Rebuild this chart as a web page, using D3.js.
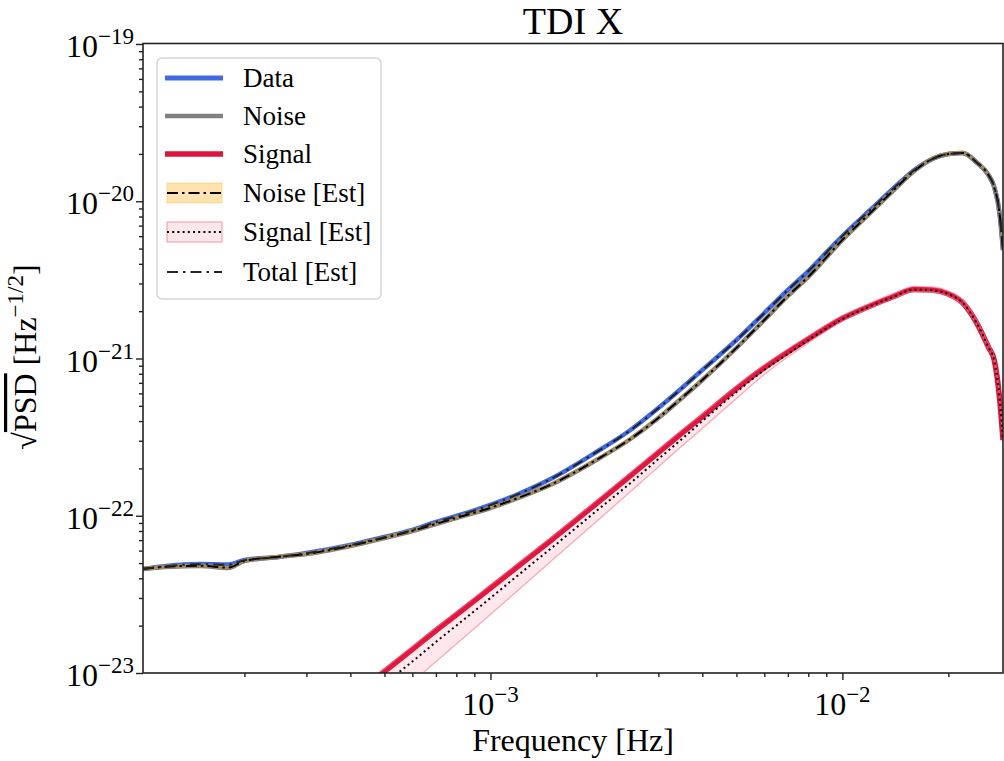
<!DOCTYPE html>
<html><head><meta charset="utf-8">
<script src="https://cdn.jsdelivr.net/npm/d3@7"></script>
<style>body{margin:0;background:#fff}svg{display:block}text{font-family:"Liberation Serif","Times New Roman",serif;fill:#000}</style>
</head><body>
<svg id="c" width="1004" height="761"></svg>
<script>
// ---------------- data ----------------
const freqs = [1.03e-4,1.2e-4,1.5e-4,1.8e-4,2e-4,2.5e-4,3e-4,4e-4,5e-4,6e-4,7e-4,8e-4,1e-3,1.2e-3,1.5e-3,2e-3,2.5e-3,3e-3,3.5e-3,4e-3,5e-3,6e-3,7e-3,8e-3,1e-2,1.2e-2,1.4e-2,1.6e-2,1.8e-2,2e-2,2.2e-2,2.4e-2,2.6e-2,2.7e-2,2.8e-2,2.86e-2];
const dataPSD = [4.585e-23,4.79e-23,4.93e-23,4.90e-23,5.23e-23,5.47e-23,5.79e-23,6.52e-23,7.33e-23,8.12e-23,9.13e-23,9.96e-23,1.171e-22,1.375e-22,1.738e-22,2.543e-22,3.51e-22,4.84e-22,6.49e-22,8.45e-22,1.311e-21,1.947e-21,2.73e-21,3.60e-21,6.01e-21,8.80e-21,1.214e-20,1.580e-20,1.857e-20,1.998e-20,2.027e-20,1.777e-20,1.469e-20,1.232e-20,8.18e-21,4.90e-21];
const noisePSD = [4.585e-23,4.72e-23,4.80e-23,4.65e-23,5.15e-23,5.47e-23,5.71e-23,6.42e-23,7.22e-23,8.00e-23,8.86e-23,9.67e-23,1.120e-22,1.297e-22,1.591e-22,2.262e-22,3.076e-22,4.18e-22,5.61e-22,7.30e-22,1.166e-21,1.757e-21,2.497e-21,3.30e-21,5.67e-21,8.42e-21,1.179e-20,1.557e-20,1.857e-20,1.998e-20,2.027e-20,1.777e-20,1.469e-20,1.232e-20,8.18e-21,4.90e-21];
const noiseEst = [4.60e-23,4.74e-23,4.81e-23,4.68e-23,5.16e-23,5.48e-23,5.72e-23,6.44e-23,7.24e-23,8.02e-23,8.88e-23,9.70e-23,1.123e-22,1.300e-22,1.595e-22,2.268e-22,3.082e-22,4.19e-22,5.62e-22,7.31e-22,1.168e-21,1.759e-21,2.500e-21,3.31e-21,5.68e-21,8.43e-21,1.180e-20,1.558e-20,1.858e-20,1.999e-20,2.028e-20,1.778e-20,1.470e-20,1.233e-20,8.19e-21,4.91e-21];
const noiseEstLo = [4.52e-23,4.65e-23,4.73e-23,4.58e-23,5.07e-23,5.39e-23,5.62e-23,6.32e-23,7.11e-23,7.88e-23,8.73e-23,9.52e-23,1.103e-22,1.278e-22,1.567e-22,2.228e-22,3.030e-22,4.12e-22,5.53e-22,7.19e-22,1.149e-21,1.731e-21,2.459e-21,3.25e-21,5.58e-21,8.29e-21,1.161e-20,1.534e-20,1.829e-20,1.968e-20,1.997e-20,1.750e-20,1.447e-20,1.214e-20,8.06e-21,4.83e-21];
const noiseEstHi = [4.70e-23,4.84e-23,4.92e-23,4.77e-23,5.28e-23,5.61e-23,5.85e-23,6.58e-23,7.40e-23,8.20e-23,9.08e-23,9.91e-23,1.148e-22,1.329e-22,1.631e-22,2.319e-22,3.153e-22,4.28e-22,5.75e-22,7.48e-22,1.195e-21,1.801e-21,2.559e-21,3.38e-21,5.81e-21,8.63e-21,1.208e-20,1.596e-20,1.903e-20,2.048e-20,2.078e-20,1.821e-20,1.506e-20,1.263e-20,8.38e-21,5.02e-21];
const totalEst = [4.60e-23,4.78e-23,4.92e-23,4.88e-23,5.22e-23,5.46e-23,5.78e-23,6.50e-23,7.31e-23,8.10e-23,9.10e-23,9.93e-23,1.168e-22,1.372e-22,1.734e-22,2.538e-22,3.50e-22,4.83e-22,6.47e-22,8.43e-22,1.308e-21,1.943e-21,2.725e-21,3.59e-21,6.00e-21,8.79e-21,1.212e-20,1.578e-20,1.855e-20,1.996e-20,2.025e-20,1.775e-20,1.467e-20,1.230e-20,8.16e-21,4.89e-21];

const sigFreqs = [4.7e-4,5e-4,6e-4,7e-4,8e-4,1e-3,1.2e-3,1.5e-3,2e-3,2.5e-3,3e-3,3.5e-3,4e-3,5e-3,6e-3,7e-3,8e-3,1e-2,1.2e-2,1.4e-2,1.6e-2,1.8e-2,2e-2,2.2e-2,2.4e-2,2.6e-2,2.7e-2,2.8e-2,2.86e-2];
const signalPSD = [9.18e-24,1.024e-23,1.413e-23,1.864e-23,2.345e-23,3.472e-23,4.79e-23,7.09e-23,1.196e-22,1.800e-22,2.521e-22,3.358e-22,4.27e-22,6.43e-22,8.73e-22,1.100e-21,1.330e-21,1.796e-21,2.157e-21,2.479e-21,2.747e-21,2.727e-21,2.572e-21,2.254e-21,1.706e-21,1.183e-21,9.78e-22,5.44e-22,3.03e-22];
const signalEst = [7.69e-24,8.56e-24,1.182e-23,1.574e-23,2.0e-23,3.0e-23,4.20e-23,6.30e-23,1.072e-22,1.615e-22,2.296e-22,3.076e-22,4.00e-22,6.12e-22,8.45e-22,1.07e-21,1.31e-21,1.78e-21,2.15e-21,2.47e-21,2.74e-21,2.72e-21,2.565e-21,2.25e-21,1.70e-21,1.18e-21,9.75e-22,5.42e-22,3.02e-22];
const signalEstLo = [5.41e-24,6.06e-24,8.69e-24,1.182e-23,1.529e-23,2.358e-23,3.37e-23,5.23e-23,9.18e-23,1.424e-22,2.04e-22,2.777e-22,3.59e-22,5.57e-22,7.91e-22,1.022e-21,1.255e-21,1.731e-21,2.094e-21,2.407e-21,2.667e-21,2.648e-21,2.497e-21,2.189e-21,1.657e-21,1.149e-21,9.50e-22,5.29e-22,2.944e-22];
const signalEstHi = [9.59e-24,1.070e-23,1.477e-23,1.948e-23,2.451e-23,3.628e-23,5.01e-23,7.41e-23,1.250e-22,1.881e-22,2.634e-22,3.509e-22,4.46e-22,6.72e-22,9.12e-22,1.150e-21,1.390e-21,1.877e-21,2.254e-21,2.591e-21,2.871e-21,2.850e-21,2.688e-21,2.355e-21,1.783e-21,1.236e-21,1.022e-21,5.68e-22,3.17e-22];

const xMajorTicks = [1e-3,1e-2];
const xMajorExp = ["\u22123","\u22122"];
const yMajorTicks = [1e-23,1e-22,1e-21,1e-20,1e-19];
const yMajorExp = ["\u221223","\u221222","\u221221","\u221220","\u221219"];
const legendLabels = ["Data","Noise","Signal","Noise [Est]","Signal [Est]","Total [Est]"];

// ---------------- chart ----------------
const svg = d3.select("#c");
const L=143,R=1003,T=43.5,B=673;
const x = d3.scaleLog().domain([1.03e-4,2.86e-2]).range([L,R]);
const y = d3.scaleLog().domain([1e-23,1e-19]).range([B,44]);

svg.append("defs").append("clipPath").attr("id","clip")
  .append("rect").attr("x",L).attr("y",T).attr("width",R-L).attr("height",B-T);
const g = svg.append("g").attr("clip-path","url(#clip)");

const line = (fs,vs)=>d3.line().x((d,i)=>x(fs[i])).y(d=>y(d)).curve(d3.curveMonotoneX)(vs);
const area = (fs,lo,hi)=>d3.area().x((d,i)=>x(fs[i])).y0((d,i)=>y(lo[i])).y1(d=>y(d)).curve(d3.curveMonotoneX)(hi);

g.append("path").attr("d",line(freqs,dataPSD)).attr("fill","none").attr("stroke","#4169e1").attr("stroke-width",4.5).attr("stroke-linejoin","round");
g.append("path").attr("d",line(freqs,noisePSD)).attr("fill","none").attr("stroke","#808080").attr("stroke-width",4.5).attr("stroke-linejoin","round");
g.append("path").attr("d",line(sigFreqs,signalPSD)).attr("fill","none").attr("stroke","#dc143c").attr("stroke-width",5.5).attr("stroke-linejoin","round");

g.append("path").attr("d",area(freqs,noiseEstLo,noiseEstHi)).attr("fill","#ffa500").attr("fill-opacity",0.25).attr("stroke","#ffa500").attr("stroke-opacity",0.25).attr("stroke-width",1);
g.append("path").attr("d",line(freqs,noiseEst)).attr("fill","none").attr("stroke","#000").attr("stroke-width",2).attr("stroke-dasharray","11,4,2.5,4");
g.append("path").attr("d",area(sigFreqs,signalEstLo,signalEstHi)).attr("fill","#ff3c64").attr("fill-opacity",0.12).attr("stroke","#f47a92").attr("stroke-opacity",0.6).attr("stroke-width",1.3);
g.append("path").attr("d",line(sigFreqs,signalEst)).attr("fill","none").attr("stroke","#000").attr("stroke-width",2).attr("stroke-dasharray","2,3.2");
g.append("path").attr("d",line(freqs,totalEst)).attr("fill","none").attr("stroke","#222").attr("stroke-width",2).attr("stroke-dasharray","11,5,2.5,5");

// axes
const xMinor = [];
for (let e=-4;e<=-2;e++) for (let k=2;k<=9;k++){const v=k*Math.pow(10,e); if(v>=1.03e-4&&v<=2.86e-2) xMinor.push(v);}
const yMinor = [];
for (let e=-23;e<-19;e++) for (let k=2;k<=9;k++) yMinor.push(k*Math.pow(10,e));

const axX = svg.append("g").attr("transform",`translate(0,${B})`);
axX.call(d3.axisBottom(x).tickValues(xMinor).tickSize(4).tickFormat(""));
const axX2 = svg.append("g").attr("transform",`translate(0,${B})`);
axX2.call(d3.axisBottom(x).tickValues(xMajorTicks).tickSize(7).tickFormat(""));
const axY = svg.append("g").attr("transform",`translate(${L},0)`);
axY.call(d3.axisLeft(y).tickValues(yMinor).tickSize(4).tickFormat(""));
const axY2 = svg.append("g").attr("transform",`translate(${L},0)`);
axY2.call(d3.axisLeft(y).tickValues(yMajorTicks).tickSize(7).tickFormat(""));
svg.selectAll(".domain").remove();
svg.selectAll(".tick line").attr("stroke","#222").attr("stroke-width",1.4);

// tick labels
xMajorTicks.forEach((v,i)=>{
  const t = svg.append("text").attr("x",x(v)).attr("y",715).attr("text-anchor","middle").style("font-size","32px");
  t.append("tspan").text("10");
  t.append("tspan").attr("dy",-13).style("font-size","23px").text(xMajorExp[i]);
});
yMajorTicks.forEach((v,i)=>{
  const t = svg.append("text").attr("x",L-9).attr("y",y(v)+13).attr("text-anchor","end").style("font-size","32px");
  t.append("tspan").text("10");
  t.append("tspan").attr("dy",-13).style("font-size","23px").text(yMajorExp[i]);
});

// frame
svg.append("rect").attr("x",L).attr("y",T).attr("width",R-L).attr("height",B-T).attr("fill","none").attr("stroke","#222").attr("stroke-width",1.6);

// title & labels
svg.append("text").attr("x",(L+R)/2).attr("y",34).attr("text-anchor","middle").style("font-size","38px").text("TDI X");
svg.append("text").attr("x",(L+R)/2).attr("y",751).attr("text-anchor","middle").style("font-size","32px").text("Frequency [Hz]");
const yl = svg.append("text").attr("transform","translate(36,357) rotate(-90)").attr("text-anchor","middle").style("font-size","32px");
yl.append("tspan").text("\u221a");
yl.append("tspan").attr("text-decoration","overline").style("text-decoration","overline").text("PSD");
yl.append("tspan").text(" [Hz");
yl.append("tspan").attr("dy",-13).style("font-size","23px").text("\u22121/2");
yl.append("tspan").attr("dy",13).text("]");

// legend
const lg = svg.append("g");
lg.append("rect").attr("x",157).attr("y",58).attr("width",224).attr("height",241).attr("rx",5)
  .attr("fill","#fff").attr("fill-opacity",0.85).attr("stroke","#d6d6d6").attr("stroke-width",1.5);
const ly = [78,116,154,193,232,272];
const hx1=165,hx2=223;
lg.append("line").attr("x1",hx1).attr("x2",hx2).attr("y1",ly[0]).attr("y2",ly[0]).attr("stroke","#4169e1").attr("stroke-width",5);
lg.append("line").attr("x1",hx1).attr("x2",hx2).attr("y1",ly[1]).attr("y2",ly[1]).attr("stroke","#808080").attr("stroke-width",4.5);
lg.append("line").attr("x1",hx1).attr("x2",hx2).attr("y1",ly[2]).attr("y2",ly[2]).attr("stroke","#dc143c").attr("stroke-width",5.5);
lg.append("rect").attr("x",167).attr("y",ly[3]-10).attr("width",55).attr("height",20).attr("fill","#ffa500").attr("fill-opacity",0.3).attr("stroke","#ffa500").attr("stroke-opacity",0.35);
lg.append("line").attr("x1",hx1+2).attr("x2",hx2-1).attr("y1",ly[3]).attr("y2",ly[3]).attr("stroke","#000").attr("stroke-width",2).attr("stroke-dasharray","11,4,2.5,4");
lg.append("rect").attr("x",167).attr("y",ly[4]-10).attr("width",55).attr("height",20).attr("fill","#ff3c64").attr("fill-opacity",0.12).attr("stroke","#f47a92").attr("stroke-opacity",0.6).attr("stroke-width",1.3);
lg.append("line").attr("x1",hx1+2).attr("x2",hx2-1).attr("y1",ly[4]).attr("y2",ly[4]).attr("stroke","#000").attr("stroke-width",2).attr("stroke-dasharray","2,3.2");
lg.append("line").attr("x1",hx1+2).attr("x2",hx2-1).attr("y1",ly[5]).attr("y2",ly[5]).attr("stroke","#222").attr("stroke-width",2).attr("stroke-dasharray","11,5,2.5,5");
legendLabels.forEach((s,i)=>{
  lg.append("text").attr("x",243).attr("y",ly[i]+9).style("font-size","27px").text(s);
});
</script>
</body></html>
